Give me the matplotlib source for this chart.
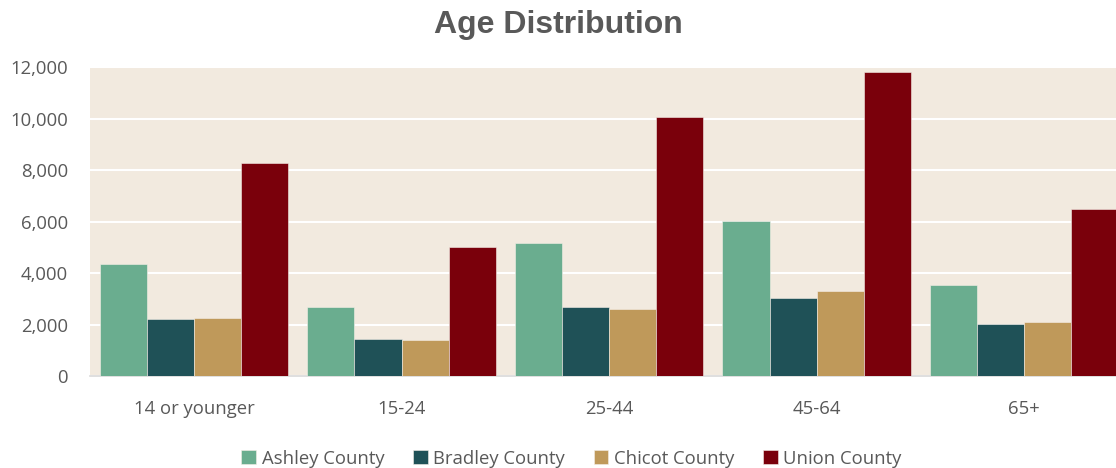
import numpy as np
import matplotlib
matplotlib.use("Agg")
import matplotlib.pyplot as plt
from matplotlib.ticker import FuncFormatter

age_groups = ["14 or younger", "15-24", "25-44", "45-64", "65+"]
counties = ["Ashley County", "Bradley County", "Chicot County", "Union County"]
ashley = [4340, 2680, 5170, 6040, 3525]
bradley = [2200, 1450, 2680, 3020, 2010]
chicot = [2240, 1380, 2590, 3300, 2110]
union = [8270, 5010, 10080, 11830, 6480]
colors = ["#6AAD8F", "#1F5157", "#BF995A", "#7A000B"]

plt.rcParams["font.family"] = ["Open Sans", "DejaVu Sans"]

fig = plt.figure(figsize=(11.16, 4.68), dpi=100)
ax = fig.add_axes([0.0808, 0.1966, 0.930, 0.6596])
ax.set_facecolor("#F2EADF")

x = np.arange(len(age_groups))
w = 0.227
for i, (vals, name) in enumerate(zip([ashley, bradley, chicot, union], counties)):
    ax.bar(x + (i - 1.5) * w, vals, width=w, color=colors[i], label=name,
           edgecolor="#F5EFE8", linewidth=0.4, zorder=3)

ax.set_xlim(-0.5, 4.5)
ax.set_ylim(0, 12000)
ax.set_yticks(np.arange(0, 12001, 2000))
ax.yaxis.set_major_formatter(FuncFormatter(lambda v, p: f"{int(v):,}"))
ax.grid(axis="y", color="white", linewidth=1.5, zorder=1)
ax.set_xticks(x)
ax.set_xticklabels(age_groups)
ax.tick_params(axis="both", length=0, labelsize=13.3, colors="#595959")
ax.tick_params(axis="x", pad=17)
ax.tick_params(axis="y", pad=16)
for s in ["top", "right", "left"]:
    ax.spines[s].set_visible(False)
ax.spines["bottom"].set_color("#D9D9D9")
ax.spines["bottom"].set_linewidth(1.2)
ax.set_axisbelow(True)

fig.suptitle("Age Distribution", x=0.5, y=0.978, fontsize=23, fontweight="bold",
             color="#595959", family="Liberation Sans")

fig.legend(loc="lower center", bbox_to_anchor=(0.512, -0.035), ncol=4, frameon=False,
           fontsize=13.3, labelcolor="#595959", handlelength=0.8, handleheight=0.8,
           handletextpad=0.3, columnspacing=1.55)

fig.savefig("out.png", dpi=100)
